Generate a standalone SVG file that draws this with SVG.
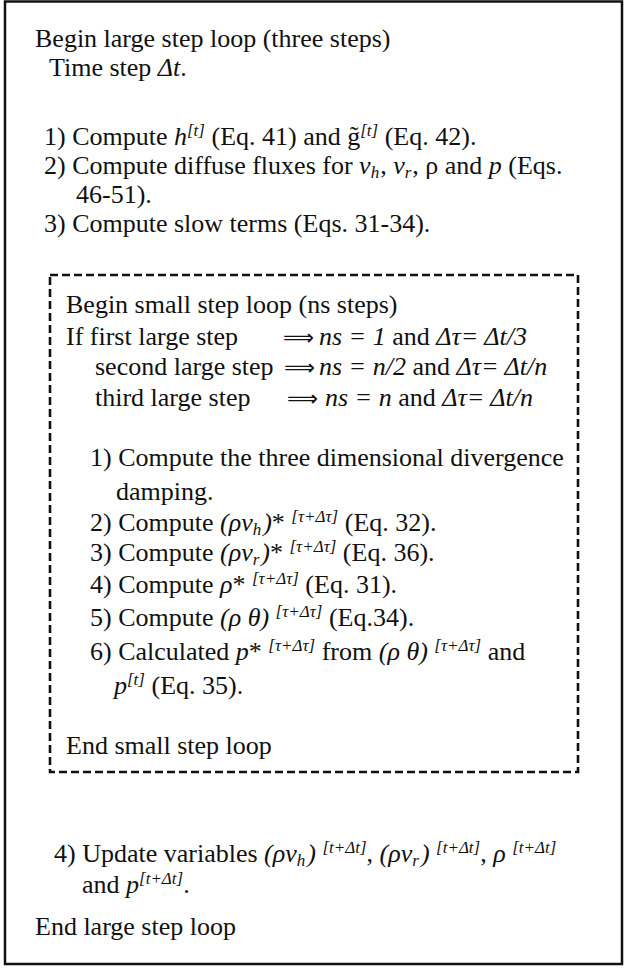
<svg xmlns="http://www.w3.org/2000/svg" width="624" height="968" viewBox="0 0 624 968">
<style>
text { font-family: "Liberation Serif", "Times New Roman", serif; font-size: 26px; fill: #111; }
.i { font-style: italic; }
.s { font-size: 17px; font-style: italic; }
.arr { font-family: "DejaVu Sans", sans-serif; font-size: 22px; font-style: normal; }
.outer { fill: #fff; stroke: #111; stroke-width: 2.5; }
.dash { fill: none; stroke: #111; stroke-width: 2.6; stroke-dasharray: 8 4; }
</style>
<rect width="624" height="968" fill="#fff"/>
<g id="large-step-loop">
<rect class="outer" x="5" y="1.5" width="617" height="962.5"/>
<text x="35" y="47">Begin large step loop (three steps)</text>
<text x="49" y="76">Time step <tspan class="i">Δt</tspan>.</text>
<text x="44" y="145">1) Compute <tspan class="i">h</tspan><tspan class="s" dy="-9">[t]</tspan><tspan dy="9"> (Eq. 41) and g̃</tspan><tspan class="s" dy="-9">[t]</tspan><tspan dy="9"> (Eq. 42).</tspan></text>
<text x="44" y="174">2) Compute diffuse fluxes for <tspan class="i">v</tspan><tspan class="s" dy="4">h</tspan><tspan dy="-4" dx="1">, </tspan><tspan class="i">v</tspan><tspan class="s" dy="4">r</tspan><tspan dy="-4" dx="1">, ρ and </tspan><tspan class="i">p</tspan> (Eqs.</text>
<text x="76" y="203">46-51).</text>
<text x="44" y="232">3) Compute slow terms (Eqs. 31-34).</text>
<text x="54" y="862">4) Update variables <tspan class="i">(ρv</tspan><tspan class="s" dy="4">h</tspan><tspan class="i" dy="-4" dx="2">)</tspan> <tspan class="s" dy="-9">[t+Δt]</tspan><tspan dy="9">, </tspan><tspan class="i">(ρv</tspan><tspan class="s" dy="4">r</tspan><tspan class="i" dy="-4" dx="2">)</tspan> <tspan class="s" dy="-9">[t+Δt]</tspan><tspan dy="9">, </tspan><tspan class="i">ρ</tspan> <tspan class="s" dy="-9">[t+Δt]</tspan></text>
<text x="82" y="893">and <tspan class="i">p</tspan><tspan class="s" dy="-9">[t+Δt]</tspan><tspan dy="9">.</tspan></text>
<text x="35" y="935">End large step loop</text>
</g>
<g id="small-step-loop">
<rect class="dash" x="50" y="275" width="528" height="497"/>
<text x="66" y="313">Begin small step loop (ns steps)</text>
<text x="66" y="345">If first large step</text>
<text class="arr" x="283" y="345" textLength="31" lengthAdjust="spacingAndGlyphs">⟹</text>
<text x="319" y="345"><tspan class="i">ns = 1</tspan> and <tspan class="i">Δτ= Δt/3</tspan></text>
<text x="95" y="375">second large step</text>
<text class="arr" x="284" y="375" textLength="31" lengthAdjust="spacingAndGlyphs">⟹</text>
<text x="319" y="375"><tspan class="i">ns = n/2</tspan> and <tspan class="i">Δτ= Δt/n</tspan></text>
<text x="95" y="406">third large step</text>
<text class="arr" x="287" y="406" textLength="31" lengthAdjust="spacingAndGlyphs">⟹</text>
<text x="325" y="406"><tspan class="i">ns = n</tspan> and <tspan class="i">Δτ= Δt/n</tspan></text>
<text x="90" y="466">1) Compute the three dimensional divergence</text>
<text x="116" y="500">damping.</text>
<text x="90" y="531">2) Compute <tspan class="i">(ρv</tspan><tspan class="s" dy="4">h</tspan><tspan class="i" dy="-4" dx="2">)</tspan>* <tspan class="s" dy="-9">[τ+Δτ]</tspan><tspan dy="9"> (Eq. 32).</tspan></text>
<text x="90" y="561">3) Compute <tspan class="i">(ρv</tspan><tspan class="s" dy="4">r</tspan><tspan class="i" dy="-4" dx="2">)</tspan>* <tspan class="s" dy="-9">[τ+Δτ]</tspan><tspan dy="9"> (Eq. 36).</tspan></text>
<text x="90" y="593">4) Compute <tspan class="i">ρ</tspan>* <tspan class="s" dy="-9">[τ+Δτ]</tspan><tspan dy="9"> (Eq. 31).</tspan></text>
<text x="90" y="626">5) Compute <tspan class="i">(ρ θ)</tspan> <tspan class="s" dy="-9">[τ+Δτ]</tspan><tspan dy="9"> (Eq.34).</tspan></text>
<text x="90" y="660">6) Calculated <tspan class="i">p</tspan>* <tspan class="s" dy="-9">[τ+Δτ]</tspan><tspan dy="9"> from </tspan><tspan class="i">(ρ θ)</tspan> <tspan class="s" dy="-9">[τ+Δτ]</tspan><tspan dy="9"> and</tspan></text>
<text x="114" y="694"><tspan class="i">p</tspan><tspan class="s" dy="-9">[t]</tspan><tspan dy="9"> (Eq. 35).</tspan></text>
<text x="66" y="754">End small step loop</text>
</g>
<g id="connectors"/>
</svg>
